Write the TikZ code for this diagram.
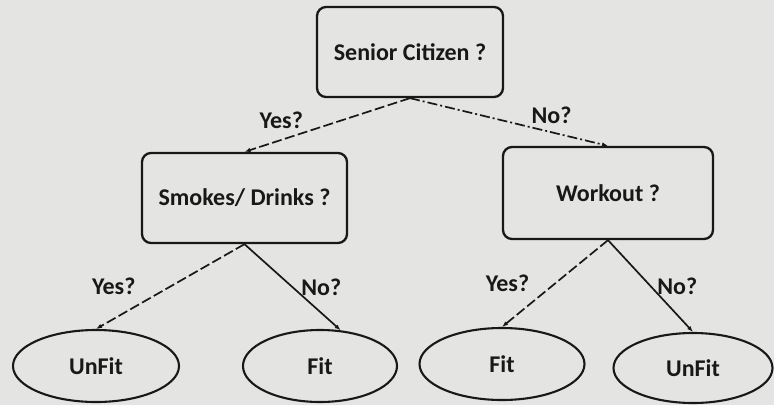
\documentclass[tikz,border=0pt]{standalone}
\usepackage{fontspec}
\setmainfont{Carlito}
\usetikzlibrary{arrows.meta,shapes.geometric}
\definecolor{paper}{RGB}{228,228,226}
\definecolor{ink}{RGB}{24,24,24}
\begin{document}
\begin{tikzpicture}[x=1pt,y=-1pt]
	\tikzset{every node/.style={font=\fontsize{24}{28}\selectfont\bfseries,text=ink}}
	\tikzset{question/.style={draw=ink,line width=2.3pt,rounded corners=9pt,inner sep=0pt}}
	\tikzset{leaf/.style={ellipse,draw=ink,line width=2.1pt,minimum height=72pt,inner sep=0pt}}
	\tikzset{branch/.style={draw=ink,line width=1.7pt,-{Latex[length=6pt,width=4.5pt]}}}
	\tikzset{maybe/.style={branch,dash pattern=on 10pt off 3.5pt}}
	\tikzset{answer/.style={inner sep=0pt}}
	\fill[paper] (0,0) rectangle (774,405);
	\useasboundingbox (0,0) rectangle (774,405);
	\node[question,minimum width=186pt,minimum height=90pt] (senior) at (410,52) {Senior Citizen ?};
	\node[question,minimum width=205pt,minimum height=90pt] (smokes) at (244.5,198) {Smokes/ Drinks ?};
	\node[question,minimum width=210pt,minimum height=92pt] (workout) at (608,193) {Workout ?};
	\node[leaf,minimum width=166pt] (unfitA) at (96,366) {UnFit};
	\node[leaf,minimum width=154pt] (fitA) at (320,366) {Fit};
	\node[leaf,minimum width=165pt] (fitB) at (502,364) {Fit};
	\node[leaf,minimum width=159pt,minimum height=70pt] (unfitB) at (693,368) {UnFit};
	\draw[maybe] (senior.south) -- node[answer,pos=.63,above left=2pt] {Yes?} (smokes.north);
	\draw[branch,dash pattern=on 10pt off 3pt on 2pt off 3pt] (senior.south) -- node[answer,pos=.6,above right=2pt] {No?} (workout.north);
	\draw[maybe] (smokes.south) -- node[answer,pos=.5,left=34pt] {Yes?} (unfitA.north);
	\draw[branch] (smokes.south) -- node[answer,pos=.5,right=8pt] {No?} (fitA.60);
	\draw[maybe] (workout.south) -- node[answer,pos=.5,left=25pt] {Yes?} (fitB.north);
	\draw[branch] (workout.south) -- node[answer,pos=.5,right=6pt] {No?} (unfitB.north);
\end{tikzpicture}
\end{document}
